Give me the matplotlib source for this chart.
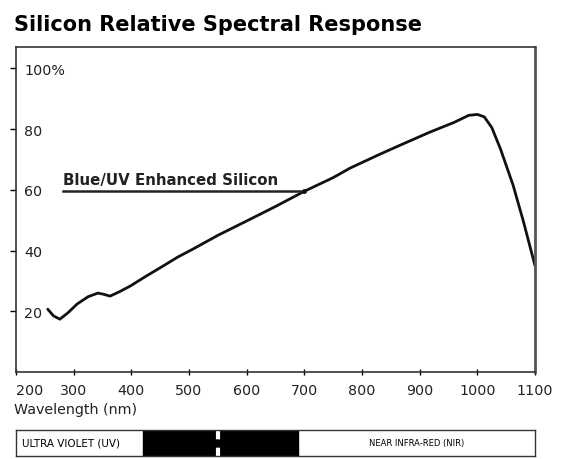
import matplotlib.pyplot as plt

plt.rcParams['font.family'] = ['DejaVu Sans']

# curve
wavelength = [255, 265, 276, 290, 306, 325, 342, 352, 363, 380, 398, 425, 455,
              480, 507, 550, 606, 650, 700, 750, 780, 831, 870, 918, 960, 985,
              1000, 1012, 1025, 1040, 1062, 1080, 1100]
response = [20.7, 18.5, 17.4, 19.5, 22.4, 24.8, 26.0, 25.6, 25.0, 26.5, 28.3,
            31.5, 34.9, 37.8, 40.5, 45.0, 50.3, 54.5, 59.5, 64.0, 67.2, 71.7,
            75.0, 79.0, 82.2, 84.5, 84.8, 84.0, 80.5, 73.5, 61.5, 49.5, 35.0]

x_ticks = [200, 300, 400, 500, 600, 700, 800, 900, 1000, 1100]
y_ticks = [20, 40, 60, 80, 100]
y_labels = ['20', '40', '60', '80', '100%']

label_text = 'Blue/UV Enhanced Silicon'
label_start, label_end, label_y = 281, 700, 59.5

# spectrum band below the chart
visible_start, visible_end = 420, 689
visible_gap = 550

fig = plt.figure(figsize=(5.64, 4.6), dpi=100)
ax = fig.add_axes([0.0284, 0.189, 0.9202, 0.7067])

ax.plot(wavelength, response, color='#111111', lw=2, solid_capstyle='round',
        solid_joinstyle='round')
ax.plot([label_start, label_end], [label_y, label_y], color='#222222', lw=1.8)
ax.plot([label_end], [label_y], 'o', color='#111111', ms=2.5)
ax.text(label_start, label_y + 1.3, label_text, fontsize=10.8, fontweight='semibold',
        va='bottom', ha='left', color='#222222')

ax.set_xlim(200, 1100)
ax.set_ylim(0, 107)
ax.set_xticks(x_ticks)
ax.set_xticklabels([str(t) for t in x_ticks], fontsize=10.3, color='#222222')
ax.set_yticks(y_ticks)
ax.set_yticklabels(y_labels, fontsize=10.3, color='#222222')
for lbl in ax.get_yticklabels():
    lbl.set_horizontalalignment('left')
ax.tick_params(axis='y', direction='out', length=4, width=1, pad=-10)
ax.tick_params(axis='x', direction='inout', length=4, width=1, pad=6)
ax.get_xticklabels()[0].set_horizontalalignment('left')
ax.get_xticklabels()[0].set_x(190)
for s in ax.spines.values():
    s.set_color('#333333')
    s.set_linewidth(1.2)
ax.spines['right'].set_linewidth(2)
ax.spines['right'].set_color('#555555')

fig.text(0.025, 0.968, 'Silicon Relative Spectral Response', fontsize=15,
         fontweight='bold', va='top', ha='left')
fig.text(0.025, 0.108, 'Wavelength (nm)', fontsize=10.3, va='center', ha='left',
         color='#222222')

band = fig.add_axes([0.0284, 0.006, 0.9202, 0.058])
band.set_xlim(200, 1100)
band.set_ylim(0, 1)
band.axvspan(visible_start, visible_end, color='black')
band.axvline(visible_gap, color='white', lw=3, ls=(0, (2, 2)))
band.text(210, 0.5, 'ULTRA VIOLET (UV)', fontsize=7.5, va='center', ha='left')
band.text(895, 0.5, 'NEAR INFRA-RED (NIR)', fontsize=6, va='center', ha='center')
band.set_xticks([])
band.set_yticks([])
for s in band.spines.values():
    s.set_color('#333333')
    s.set_linewidth(1)

fig.savefig('out.png', dpi=100)
